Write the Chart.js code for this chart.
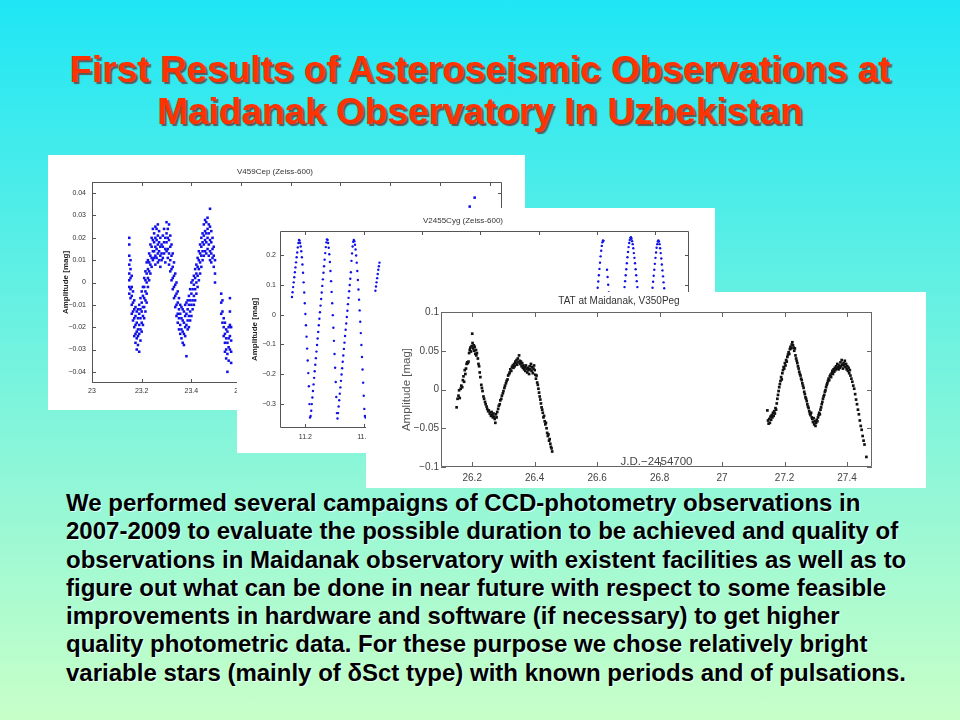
<!DOCTYPE html>
<html>
<head>
<meta charset="utf-8">
<script src="https://cdn.jsdelivr.net/npm/chart.js@4.4.0/dist/chart.umd.min.js"></script>
<style>
body{margin:0;overflow:hidden}
#slide{position:relative;width:960px;height:720px;background:linear-gradient(#1fe6f5,#c8ffc8);font-family:"Liberation Sans",Arial,sans-serif}
#head{position:absolute;left:0;top:49px;width:960px;text-align:center;font-weight:bold;font-size:37px;line-height:42px;color:#ff3300;text-shadow:2px 2px 1px #5a5a5a}
.card{position:absolute;background:#fff}
.card canvas{display:block}
#body{position:absolute;left:66px;top:489px;font-weight:bold;font-size:24px;line-height:28.3px;color:#000;text-shadow:1px 1px 1px rgba(255,255,255,.8);white-space:nowrap}
</style>
</head>
<body>
<div id="slide">
<div id="head">First Results of Asteroseismic Observations at<br>Maidanak Observatory In Uzbekistan</div>
<div class="card" style="left:48px;top:155px;width:477px;height:255px"><canvas id="c1" width="477" height="255"></canvas></div>
<div class="card" style="left:237px;top:208px;width:478px;height:245px"><canvas id="c2" width="478" height="245"></canvas></div>
<div class="card" style="left:366px;top:292px;width:560px;height:196px"><canvas id="c3" width="560" height="196"></canvas></div>
<div id="body">We performed several campaigns of CCD-photometry observations in<br>2007-2009 to evaluate the possible duration to be achieved and quality of<br>observations in Maidanak observatory with existent facilities as well as to<br>figure out what can be done in near future with respect to some feasible<br>improvements in hardware and software (if necessary) to get higher<br>quality photometric data. For these purpose we chose relatively bright<br>variable stars (mainly of δSct type) with known periods and of pulsations.</div>
</div>
<script>
// V459Cep: times and the amplitudes seen at each time
const cepT = [23.150,23.155,23.160,23.165,23.170,23.175,23.180,23.185,23.190,23.195,
  23.200,23.205,23.210,23.215,23.220,23.225,23.230,23.235,23.240,23.245,
  23.250,23.255,23.260,23.265,23.270,23.275,23.280,23.285,23.290,23.295,
  23.300,23.305,23.310,23.315,23.320,23.325,23.330,23.335,23.340,23.345,
  23.350,23.355,23.360,23.365,23.370,23.375,23.380,23.385,23.390,23.395,
  23.400,23.405,23.410,23.415,23.420,23.425,23.430,23.435,23.440,23.445,
  23.450,23.455,23.460,23.465,23.470,23.475,23.480,23.485,23.490,23.495,
  23.520,23.525,23.530,23.535,23.540,23.545,23.550,23.555,23.560,
  24.520,24.540]
const cepY = [
  [0.020,0.017,0.012,0.008,0.004,0.001,-0.002,-0.005],[0.010,0.006,0.002,-0.003,-0.007],
  [0.003,-0.002,-0.006,-0.010,-0.014],[-0.004,-0.009,-0.013,-0.017],
  [-0.008,-0.012,-0.016,-0.020,-0.024],[-0.011,-0.015,-0.019,-0.023,-0.027],
  [-0.013,-0.018,-0.022,-0.025,-0.030],[-0.012,-0.016,-0.021,-0.024,-0.028],
  [-0.010,-0.014,-0.019,-0.023,-0.031],[-0.007,-0.012,-0.016,-0.021,-0.026],
  [-0.004,-0.009,-0.013,-0.018,-0.022],[-0.002,-0.006,-0.011,-0.015,-0.019],
  [0.002,-0.002,-0.007,-0.011,-0.016],[0.005,0.001,-0.004,-0.008,-0.013],
  [0.009,0.004,0.000,-0.005,-0.009],[0.010,0.006,0.002,-0.002],
  [0.013,0.009,0.005,0.001],[0.017,0.012,0.008,0.004],
  [0.020,0.016,0.011,0.007],[0.024,0.019,0.014,0.010],
  [0.022,0.018,0.014,0.011],[0.025,0.020,0.016,0.012,0.008],
  [0.024,0.019,0.015,0.011],[0.026,0.021,0.017,0.013,0.009],
  [0.023,0.018,0.014,0.010],[0.020,0.016,0.012,0.007],
  [0.017,0.013,0.010],[0.021,0.016,0.011],[0.024,0.018,0.013],[0.020,0.015,0.009],
  [0.027,0.022,0.018,0.014],[0.024,0.020,0.015,0.011],
  [0.026,0.019,0.013,0.008],[0.021,0.016,0.010,0.005],
  [0.017,0.012,0.006,0.001],[0.013,0.007,0.002,-0.003],
  [0.009,0.003,-0.002,-0.007],[0.004,-0.001,-0.006,-0.011],
  [0.000,-0.005,-0.010,-0.015],[-0.004,-0.009,-0.014,-0.018],
  [-0.007,-0.012,-0.016,-0.021],[-0.010,-0.014,-0.019,-0.023],
  [-0.011,-0.016,-0.021,-0.025],[-0.012,-0.017,-0.022,-0.027],
  [-0.013,-0.018,-0.023,-0.028],[-0.010,-0.015,-0.020,-0.024],
  [-0.009,-0.014,-0.019,-0.033],[-0.008,-0.012,-0.017,-0.021],
  [-0.006,-0.010,-0.015,-0.020],[-0.003,-0.008,-0.013,-0.017],
  [0.000,-0.005,-0.010,-0.015],[0.001,-0.003,-0.008,-0.012],
  [0.003,-0.001,-0.006,-0.010],[0.006,0.002,-0.003,-0.008],
  [0.008,0.004,0.000,-0.005],[0.011,0.007,0.003,-0.002],
  [0.014,0.010,0.006,0.001],[0.017,0.013,0.009,0.004],
  [0.020,0.016,0.012,0.007],[0.022,0.018,0.014,0.010],
  [0.026,0.021,0.017,0.012],[0.028,0.023,0.019,0.014],
  [0.027,0.022,0.018,0.013],[0.029,0.024,0.020,0.015],
  [0.026,0.022,0.017,0.012],[0.033,0.025,0.019,0.014,0.010],
  [0.023,0.018,0.013,0.009],[0.020,0.015,0.011],
  [0.016,0.012,0.007],[0.010,0.004,0.000],
  [-0.005,-0.009,-0.014],[-0.008,-0.013,-0.018],
  [-0.016,-0.020,-0.024],[-0.018,-0.023,-0.027,-0.031],
  [-0.021,-0.025,-0.030,-0.034],[-0.022,-0.027,-0.032,-0.040],
  [-0.020,-0.025,-0.029,-0.035],[-0.007,-0.013,-0.019,-0.024,-0.030],
  [-0.020,-0.026,-0.031,-0.036],
  [0.034],[0.038]]
const cepXTicks = [23,23.2,23.4,23.6,23.8,24,24.2,24.4,24.6]
const cepYTicks = [-0.04,-0.03,-0.02,-0.01,0,0.01,0.02,0.03,0.04]

// V2455Cyg: [time, amplitude]
const cygObs = [
  [11.154,0.059],[11.156,0.075],[11.158,0.092],[11.160,0.108],[11.162,0.125],[11.164,0.142],
  [11.166,0.158],[11.168,0.175],[11.170,0.192],[11.172,0.208],[11.174,0.225],[11.176,0.240],
  [11.178,0.250],[11.180,0.248],[11.182,0.240],[11.184,0.228],[11.186,0.212],[11.188,0.192],
  [11.190,0.168],[11.192,0.140],[11.194,0.108],[11.196,0.074],[11.198,0.038],[11.200,0.002],
  [11.202,-0.036],[11.204,-0.074],[11.206,-0.114],[11.208,-0.154],[11.210,-0.196],[11.212,-0.240],
  [11.214,-0.300],[11.216,-0.345],[11.218,-0.340],[11.220,-0.322],[11.222,-0.300],[11.224,-0.278],
  [11.226,-0.256],[11.228,-0.234],[11.230,-0.212],[11.232,-0.190],[11.234,-0.168],[11.236,-0.146],
  [11.238,-0.124],[11.240,-0.102],[11.242,-0.080],[11.244,-0.058],[11.246,-0.036],[11.248,-0.014],
  [11.250,0.008],[11.252,0.030],[11.254,0.052],[11.256,0.074],[11.258,0.096],[11.260,0.118],
  [11.262,0.140],[11.264,0.162],[11.266,0.184],[11.268,0.206],[11.270,0.226],[11.272,0.242],
  [11.274,0.252],[11.276,0.250],[11.278,0.240],[11.280,0.224],[11.282,0.202],[11.284,0.176],
  [11.286,0.146],[11.288,0.112],[11.290,0.076],[11.292,0.038],[11.294,-0.002],[11.296,-0.044],
  [11.298,-0.088],[11.300,-0.132],[11.302,-0.178],[11.304,-0.226],[11.306,-0.276],[11.308,-0.330],
  [11.310,-0.348],[11.312,-0.330],[11.314,-0.308],[11.316,-0.287],[11.318,-0.265],[11.320,-0.244],
  [11.322,-0.222],[11.324,-0.201],[11.326,-0.180],[11.328,-0.158],[11.330,-0.137],[11.332,-0.115],
  [11.334,-0.094],[11.336,-0.072],[11.338,-0.051],[11.340,-0.030],[11.342,-0.008],[11.344,0.013],
  [11.346,0.035],[11.348,0.056],[11.350,0.078],[11.352,0.099],[11.354,0.120],[11.356,0.142],
  [11.358,0.180],[11.360,0.205],[11.362,0.228],[11.364,0.244],[11.366,0.250],[11.368,0.246],
  [11.370,0.234],[11.372,0.218],[11.374,0.198],[11.376,0.174],[11.378,0.146],[11.380,0.116],
  [11.382,0.084],[11.384,0.050],[11.386,0.014],[11.388,-0.024],[11.390,-0.062],[11.392,-0.102],
  [11.394,-0.142],[11.396,-0.184],[11.398,-0.228],[11.400,-0.272],[11.402,-0.316],[11.404,-0.340],
  [11.406,-0.345],
  [11.440,0.080],[11.442,0.094],[11.444,0.108],[11.446,0.122],[11.448,0.136],[11.450,0.150],
  [11.452,0.162],[11.454,0.174],
  [12.200,0.070],[12.202,0.090],[12.204,0.111],[12.206,0.132],[12.208,0.153],[12.210,0.174],
  [12.212,0.195],[12.214,0.214],[12.216,0.230],[12.218,0.242],[12.220,0.248],[12.222,0.247],
  [12.234,0.150],[12.236,0.126],[12.238,0.100],[12.240,0.074],
  [12.292,0.072],[12.294,0.092],[12.296,0.112],[12.298,0.132],[12.300,0.152],[12.302,0.172],
  [12.304,0.192],[12.306,0.210],[12.308,0.226],[12.310,0.240],[12.312,0.250],[12.314,0.257],
  [12.316,0.259],[12.318,0.254],[12.320,0.246],[12.322,0.236],[12.324,0.222],[12.326,0.206],
  [12.328,0.190],[12.330,0.172],[12.332,0.152],[12.334,0.132],[12.336,0.112],[12.338,0.092],
  [12.340,0.072],
  [12.388,0.070],[12.390,0.090],[12.392,0.110],[12.394,0.130],[12.396,0.150],[12.398,0.170],
  [12.400,0.190],[12.402,0.208],[12.404,0.224],[12.406,0.236],[12.408,0.245],[12.410,0.248],
  [12.412,0.245],[12.414,0.236],[12.416,0.222],[12.418,0.206],[12.420,0.188],[12.422,0.168],
  [12.424,0.148],[12.426,0.128],[12.428,0.108],[12.430,0.088],[12.432,0.070]]
const cygXTicks = [11.2,11.4,11.6,11.8,12,12.2,12.4]
const cygYTicks = [-0.3,-0.2,-0.1,0,0.1,0.2]

// V350Peg (TAT): [time, amplitude]
const pegObs = [
  [26.150,-0.023],[26.153,-0.012],[26.156,-0.008],[26.158,-0.001],[26.160,-0.011],[26.163,0.001],
  [26.165,0.005],[26.168,0.003],[26.170,0.012],[26.172,0.017],[26.174,0.010],[26.176,0.025],
  [26.178,0.020],[26.180,0.027],[26.182,0.033],[26.184,0.035],[26.186,0.034],[26.188,0.036],
  [26.190,0.047],[26.192,0.051],[26.194,0.054],[26.196,0.049],[26.198,0.056],[26.200,0.072],
  [26.201,0.060],[26.203,0.053],[26.205,0.057],[26.206,0.050],[26.208,0.055],[26.210,0.046],
  [26.212,0.051],[26.213,0.044],[26.215,0.047],[26.218,0.040],[26.220,0.033],[26.222,0.030],
  [26.224,0.022],[26.226,0.016],[26.229,0.006],[26.231,0.002],[26.233,-0.002],[26.236,-0.009],
  [26.238,-0.012],[26.241,-0.016],[26.243,-0.019],[26.246,-0.022],[26.248,-0.025],[26.251,-0.028],
  [26.253,-0.027],[26.256,-0.031],[26.258,-0.030],[26.260,-0.034],[26.262,-0.029],[26.264,-0.033],
  [26.266,-0.036],[26.268,-0.031],[26.270,-0.035],[26.272,-0.038],[26.274,-0.043],[26.276,-0.032],
  [26.278,-0.036],[26.280,-0.029],[26.283,-0.025],[26.285,-0.021],[26.288,-0.019],[26.290,-0.014],
  [26.293,-0.012],[26.295,-0.008],[26.298,-0.005],[26.300,-0.002],[26.303,0.002],[26.305,0.005],
  [26.308,0.008],[26.310,0.011],[26.313,0.013],[26.315,0.018],[26.318,0.020],[26.320,0.022],
  [26.322,0.026],[26.325,0.024],[26.327,0.029],[26.330,0.031],[26.332,0.028],[26.334,0.033],
  [26.336,0.030],[26.338,0.036],[26.340,0.034],[26.342,0.038],[26.344,0.032],[26.346,0.040],
  [26.348,0.035],[26.350,0.044],[26.352,0.037],[26.354,0.033],[26.356,0.036],[26.358,0.030],
  [26.360,0.034],[26.362,0.028],[26.364,0.031],[26.366,0.026],[26.368,0.029],[26.370,0.024],
  [26.372,0.031],[26.374,0.027],[26.376,0.022],[26.378,0.028],[26.380,0.025],[26.382,0.020],
  [26.384,0.030],[26.386,0.026],[26.388,0.033],[26.390,0.024],[26.392,0.029],[26.394,0.021],
  [26.396,0.027],[26.398,0.031],[26.400,0.025],[26.402,0.019],[26.404,0.014],[26.406,0.018],
  [26.408,0.009],[26.410,0.006],[26.412,0.001],[26.414,-0.004],[26.416,-0.009],[26.418,-0.013],
  [26.420,-0.018],[26.422,-0.023],[26.424,-0.026],[26.426,-0.030],[26.428,-0.036],[26.430,-0.034],
  [26.432,-0.041],[26.434,-0.045],[26.436,-0.043],[26.438,-0.050],[26.440,-0.056],[26.442,-0.060],
  [26.444,-0.058],[26.446,-0.066],[26.448,-0.064],[26.450,-0.070],[26.452,-0.074],[26.454,-0.076],
  [26.456,-0.080],
  [27.145,-0.027],[27.147,-0.040],[27.149,-0.044],[27.151,-0.038],[27.153,-0.043],[27.155,-0.035],
  [27.157,-0.039],[27.159,-0.033],[27.161,-0.036],[27.163,-0.030],[27.165,-0.034],[27.167,-0.028],
  [27.169,-0.031],[27.171,-0.024],[27.173,-0.026],[27.175,-0.018],[27.177,-0.012],[27.179,-0.007],
  [27.181,-0.002],[27.183,0.003],[27.185,0.007],[27.187,0.011],[27.189,0.016],[27.191,0.013],
  [27.193,0.021],[27.195,0.025],[27.197,0.029],[27.199,0.027],[27.201,0.034],[27.203,0.031],
  [27.205,0.038],[27.207,0.036],[27.209,0.042],[27.211,0.045],[27.213,0.048],[27.215,0.046],
  [27.217,0.052],[27.219,0.055],[27.221,0.053],[27.223,0.058],[27.225,0.061],[27.227,0.057],
  [27.229,0.054],[27.231,0.050],[27.233,0.053],[27.235,0.044],[27.237,0.040],[27.239,0.037],
  [27.241,0.034],[27.243,0.030],[27.245,0.027],[27.247,0.023],[27.249,0.020],[27.251,0.018],
  [27.253,0.014],[27.255,0.012],[27.257,0.008],[27.259,0.005],[27.261,0.002],[27.263,-0.003],
  [27.265,-0.006],[27.267,-0.010],[27.269,-0.012],[27.271,-0.015],[27.273,-0.019],[27.275,-0.022],
  [27.277,-0.024],[27.279,-0.028],[27.281,-0.031],[27.283,-0.033],[27.285,-0.030],[27.287,-0.036],
  [27.289,-0.038],[27.291,-0.042],[27.293,-0.037],[27.295,-0.045],[27.297,-0.041],[27.299,-0.047],
  [27.301,-0.043],[27.303,-0.039],[27.305,-0.041],[27.307,-0.036],[27.309,-0.033],[27.311,-0.030],
  [27.313,-0.032],[27.315,-0.026],[27.317,-0.023],[27.319,-0.019],[27.321,-0.016],[27.323,-0.012],
  [27.325,-0.009],[27.327,-0.007],[27.329,-0.003],[27.331,-0.001],[27.333,0.003],[27.335,0.006],
  [27.337,0.008],[27.339,0.011],[27.341,0.014],[27.343,0.012],[27.345,0.017],[27.347,0.019],
  [27.349,0.016],[27.351,0.021],[27.353,0.024],[27.355,0.020],[27.357,0.026],[27.359,0.023],
  [27.361,0.028],[27.363,0.025],[27.365,0.030],[27.367,0.027],[27.369,0.033],[27.371,0.029],
  [27.373,0.026],[27.375,0.031],[27.377,0.028],[27.379,0.035],[27.381,0.030],[27.383,0.038],
  [27.385,0.032],[27.387,0.027],[27.389,0.034],[27.391,0.031],[27.393,0.037],[27.395,0.029],
  [27.397,0.033],[27.399,0.026],[27.401,0.030],[27.403,0.024],[27.405,0.028],[27.407,0.021],
  [27.409,0.025],[27.411,0.018],[27.414,0.014],[27.417,0.010],[27.420,0.005],[27.423,0.001],
  [27.426,-0.006],[27.429,-0.013],[27.432,-0.019],[27.435,-0.026],[27.438,-0.032],[27.441,-0.040],
  [27.444,-0.047],[27.447,-0.052],[27.450,-0.060],[27.453,-0.066],[27.456,-0.071],[27.462,-0.087]]
const pegXTicks = [26.2,26.4,26.6,26.8,27,27.2,27.4]
const pegYTicks = [-0.1,-0.05,0,0.05,0.1]

const FONT = '"Liberation Sans", Arial, sans-serif'

const cepPts = []
cepT.forEach((t,i)=>cepY[i].forEach(v=>cepPts.push({x:t,y:v})))
const cygPts = cygObs.map(p=>({x:p[0],y:p[1]}))
const pegPts = pegObs.map(p=>({x:p[0],y:p[1]}))

const fmt = v => String(+v.toFixed(3)).replace('-','\u2212')

// matlab style box with inward ticks on all four sides
const boxTicks = {
  id:'boxTicks',
  afterDatasetsDraw(chart, args, o){
    const {ctx, chartArea:a, scales:{x,y}} = chart
    ctx.save()
    ctx.strokeStyle = o.color
    ctx.lineWidth = 1
    ctx.beginPath()
    ctx.rect(Math.round(a.left)+0.5, Math.round(a.top)+0.5, Math.round(a.width)-1, Math.round(a.height)-1)
    x.ticks.forEach(t=>{
      const p = Math.round(x.getPixelForValue(t.value))+0.5
      ctx.moveTo(p,a.bottom); ctx.lineTo(p,a.bottom-o.len)
      ctx.moveTo(p,a.top); ctx.lineTo(p,a.top+o.len)
    })
    y.ticks.forEach(t=>{
      const p = Math.round(y.getPixelForValue(t.value))+0.5
      ctx.moveTo(a.left,p); ctx.lineTo(a.left+o.len,p)
      ctx.moveTo(a.right,p); ctx.lineTo(a.right-o.len,p)
    })
    ctx.stroke()
    ctx.restore()
  }
}

function panel(id, o){
  return new Chart(document.getElementById(id), {
    type:'scatter',
    data:{datasets:[{data:o.pts, pointStyle:o.style, pointRadius:o.r, backgroundColor:o.color, borderWidth:0}]},
    options:{
      responsive:false, animation:false, events:[],
      layout:{padding:{left:0,top:0,right:o.padRight,bottom:0}},
      plugins:{
        legend:{display:false}, tooltip:{enabled:false},
        title:{display:true, text:o.title, color:'#333', font:{family:FONT,size:o.titleSize,weight:'normal',lineHeight:1.2}, padding:{top:o.titleTop,bottom:o.titleBottom}},
        boxTicks:{len:o.tickLen, color:o.axisColor}
      },
      scales:{
        x:{type:'linear', min:o.xMin, max:o.xMax,
          afterBuildTicks:s=>{s.ticks=o.xTicks.map(v=>({value:v}))},
          afterFit:s=>{s.height=o.xHeight},
          grid:{display:false, drawTicks:false}, border:{display:false},
          ticks:{padding:o.xPad, color:o.tickColor, font:{family:FONT,size:o.tickSize}, callback:fmt, autoSkip:false, maxRotation:0},
          title:o.xTitle || {display:false}},
        y:{type:'linear', min:o.yMin, max:o.yMax,
          afterBuildTicks:s=>{s.ticks=o.yTicks.map(v=>({value:v}))},
          afterFit:s=>{s.width=o.yWidth},
          grid:{display:false, drawTicks:false}, border:{display:false},
          ticks:{padding:o.yPad, color:o.tickColor, font:{family:FONT,size:o.tickSize}, callback:fmt, autoSkip:false},
          title:{display:true, text:'Amplitude [mag]', color:o.labelColor, font:{family:FONT,size:o.labelSize,weight:o.labelWeight,lineHeight:1.2}, padding:{top:o.labelTop,bottom:0}}}
      }
    },
    plugins:[boxTicks]
  })
}

panel('c1', {pts:cepPts, style:'rect', r:1.8, color:'#1010e8',
  title:'V459Cep (Zeiss-600)', titleSize:8, titleTop:12.2, titleBottom:5.2, padRight:23,
  xMin:23, xMax:24.65, xTicks:cepXTicks, xHeight:27, xPad:4,
  yMin:-0.045, yMax:0.045, yTicks:cepYTicks, yWidth:44, yPad:6,
  tickSize:7, tickColor:'#333', tickLen:4, axisColor:'#555',
  labelColor:'#222', labelSize:8, labelWeight:'bold', labelTop:13.2})

panel('c2', {pts:cygPts, style:'circle', r:1.2, color:'#1010e8',
  title:'V2455Cyg (Zeiss-600)', titleSize:8, titleTop:8.2, titleBottom:5.2, padRight:26,
  xMin:11.113, xMax:12.515, xTicks:cygXTicks, xHeight:25, xPad:5,
  yMin:-0.38, yMax:0.28, yTicks:cygYTicks, yWidth:43, yPad:4,
  tickSize:7, tickColor:'#333', tickLen:4, axisColor:'#555',
  labelColor:'#222', labelSize:8, labelWeight:'bold', labelTop:13.2})

panel('c3', {pts:pegPts, style:'rect', r:1.9, color:'#111',
  title:'TAT at Maidanak, V350Peg', titleSize:10, titleTop:3, titleBottom:5, padRight:54,
  xMin:26.1, xMax:27.48, xTicks:pegXTicks, xHeight:21, xPad:5,
  xTitle:{display:true, text:'J.D.\u22122454700', color:'#444', font:{family:FONT,size:11.5,lineHeight:1.2}, padding:{top:0,bottom:19}},
  yMin:-0.1, yMax:0.1, yTicks:pegYTicks, yWidth:75, yPad:2,
  tickSize:10, tickColor:'#444', tickLen:5, axisColor:'#666',
  labelColor:'#555', labelSize:11.5, labelWeight:'normal', labelTop:34})
</script>
</body>
</html>
